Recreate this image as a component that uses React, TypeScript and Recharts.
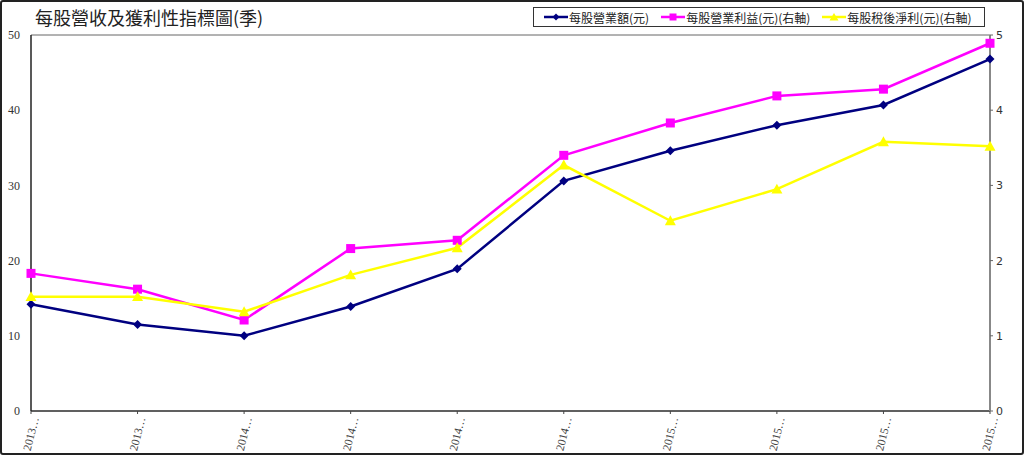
import React from "react";
import { LineChart, Line, XAxis, YAxis, CartesianGrid } from "recharts";

const categories = ["2013…", "2013…", "2014…", "2014…", "2014…", "2014…", "2015…", "2015…", "2015…", "2015…"];
const revenuePerShare = [14.2, 11.5, 10.0, 13.9, 18.9, 30.6, 34.6, 38.0, 40.7, 46.8];
const opIncomePerShare = [1.83, 1.62, 1.21, 2.16, 2.27, 3.4, 3.83, 4.19, 4.28, 4.89];
const netIncomePerShare = [1.52, 1.52, 1.32, 1.81, 2.17, 3.27, 2.53, 2.95, 3.58, 3.52];
const leftTicks = [0, 10, 20, 30, 40, 50];
const rightTicks = [0, 1, 2, 3, 4, 5];

const title = "每股營收及獲利性指標圖(季)";
const seriesNames = ["每股營業額(元)", "每股營業利益(元)(右軸)", "每股稅後淨利(元)(右軸)"];
const seriesColors = ["#000080", "#FF00FF", "#FFFF00"];

const data = categories.map((c, i) => ({
  idx: i,
  cat: c,
  rev: revenuePerShare[i],
  op: opIncomePerShare[i],
  net: netIncomePerShare[i],
}));

const Diamond = (props: any) => {
  const { cx, cy } = props;
  if (cx == null || cy == null) return null;
  const r = 4.5;
  return <path d={`M${cx},${cy - r}L${cx + r},${cy}L${cx},${cy + r}L${cx - r},${cy}Z`} fill="#000080" />;
};
const Square = (props: any) => {
  const { cx, cy } = props;
  if (cx == null || cy == null) return null;
  const r = 4.5;
  return <rect x={cx - r} y={cy - r} width={2 * r} height={2 * r} fill="#FF00FF" />;
};
const Triangle = (props: any) => {
  const { cx, cy } = props;
  if (cx == null || cy == null) return null;
  const r = 5.5;
  return <path d={`M${cx},${cy - r}L${cx + r},${cy + r * 0.8}L${cx - r},${cy + r * 0.8}Z`} fill="#FFFF00" />;
};

const markers = [
  (x: number, y: number) => <path d={`M${x},${y - 3.5}L${x + 3.5},${y}L${x},${y + 3.5}L${x - 3.5},${y}Z`} fill="#000080" />,
  (x: number, y: number) => <rect x={x - 3.5} y={y - 3.5} width={7} height={7} fill="#FF00FF" />,
  (x: number, y: number) => <path d={`M${x},${y - 4}L${x + 4.5},${y + 3.5}L${x - 4.5},${y + 3.5}Z`} fill="#FFFF00" />,
];

const LegendBox = () => (
  <div
    style={{
      position: "absolute",
      left: 533,
      top: 7,
      width: 452,
      border: "1px solid #333",
      background: "#fff",
      display: "flex",
      alignItems: "center",
      height: 20,
      padding: "0 0 0 10px",
      fontFamily: "'Noto Sans CJK TC', sans-serif",
      fontSize: 12,
      color: "#222",
      boxSizing: "border-box",
    }}
  >
    {seriesNames.map((n, i) => (
      <div key={i} style={{ display: "flex", alignItems: "center", marginRight: i < 2 ? 12 : 0 }}>
        <svg width={24} height={12} style={{ marginRight: 1 }}>
          <line x1={0} y1={6} x2={24} y2={6} stroke={seriesColors[i]} strokeWidth={2.5} />
          {markers[i](12, 6)}
        </svg>
        <span style={{ lineHeight: "17px" }}>{n}</span>
      </div>
    ))}
  </div>
);

export default function App() {
  return (
    <div
      style={{
        position: "fixed",
        left: 0,
        top: 0,
        width: 1024,
        height: 455,
        background: "#fff",
      }}
    >
      <LineChart width={1024} height={455} data={data} margin={{ top: 35, right: 0, bottom: 0, left: 0 }}>
        <CartesianGrid horizontal={true} vertical={false} stroke="#666" strokeWidth={1} />
        <XAxis
          dataKey="idx"
          type="number"
          domain={[0, categories.length - 1]}
          ticks={categories.map((_, i) => i)}
          tickFormatter={(v: number) => categories[v]}
          height={44}
          interval={0}
          axisLine={{ stroke: "#444", strokeWidth: 1.5 }}
          tickLine={{ stroke: "#444" }}
          tickSize={3}
          angle={-76}
          textAnchor="end"
          tick={{ fontFamily: "'Liberation Serif', serif", fontSize: 11.5, fill: "#444" }}
        />
        <YAxis
          yAxisId="left"
          orientation="left"
          domain={[0, 50]}
          ticks={leftTicks}
          width={31}
          interval={0}
          axisLine={{ stroke: "#222", strokeWidth: 1.5 }}
          tickLine={false}
          tickMargin={5}
          tick={{ fontFamily: "'Liberation Serif', serif", fontSize: 12, fill: "#333" }}
        />
        <YAxis
          yAxisId="right"
          orientation="right"
          domain={[0, 5]}
          ticks={rightTicks}
          width={34}
          interval={0}
          axisLine={{ stroke: "#888", strokeWidth: 2 }}
          tickLine={{ stroke: "#666" }}
          tickSize={3}
          tickMargin={3}
          tick={{ fontFamily: "'DejaVu Sans', sans-serif", fontSize: 11, fill: "#333" }}
        />
        <Line
          yAxisId="left"
          dataKey="rev"
          name={seriesNames[0]}
          stroke="#000080"
          strokeWidth={2.5}
          dot={<Diamond />}
          activeDot={false}
          isAnimationActive={false}
        />
        <Line
          yAxisId="right"
          dataKey="op"
          name={seriesNames[1]}
          stroke="#FF00FF"
          strokeWidth={2.5}
          dot={<Square />}
          activeDot={false}
          isAnimationActive={false}
        />
        <Line
          yAxisId="right"
          dataKey="net"
          name={seriesNames[2]}
          stroke="#FFFF00"
          strokeWidth={2.5}
          dot={<Triangle />}
          activeDot={false}
          isAnimationActive={false}
        />
      </LineChart>
      <div
        style={{
          position: "absolute",
          left: 35,
          top: 4,
          fontFamily: "'Noto Sans CJK TC', sans-serif",
          fontSize: 18,
          color: "#222",
          whiteSpace: "nowrap",
        }}
      >
        {title}
      </div>
      <LegendBox />
      <div
        style={{
          position: "absolute",
          left: 0,
          top: 0,
          width: 1024,
          height: 455,
          border: "2px solid #222",
          borderRadius: 3,
          boxSizing: "border-box",
          pointerEvents: "none",
        }}
      />
    </div>
  );
}
